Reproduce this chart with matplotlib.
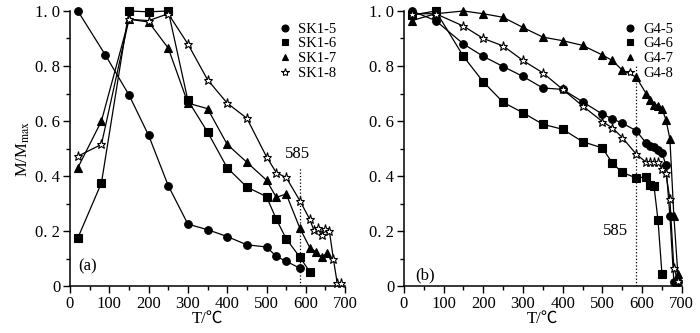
import matplotlib
matplotlib.use('Agg')
import matplotlib.pyplot as plt
from matplotlib.lines import Line2D
from matplotlib.ticker import MultipleLocator, FuncFormatter

plt.rcParams['font.family'] = ['Liberation Serif', 'Noto Sans CJK SC']
plt.rcParams['mathtext.fontset'] = 'stix'

# panel (a)
sk5_t = [20, 90, 150, 200, 250, 300, 350, 400, 450, 500, 525, 550, 585]
sk5_m = [1.0, 0.84, 0.695, 0.548, 0.365, 0.225, 0.205, 0.18, 0.15, 0.142, 0.108, 0.09, 0.065]
sk6_t = [20, 80, 150, 200, 250, 300, 350, 400, 450, 500, 525, 550, 585, 610]
sk6_m = [0.175, 0.375, 1.0, 0.997, 1.0, 0.675, 0.56, 0.43, 0.36, 0.325, 0.243, 0.172, 0.105, 0.052]
sk7_t = [20, 80, 150, 200, 250, 300, 350, 400, 450, 500, 525, 550, 585, 610, 625, 640, 655]
sk7_m = [0.43, 0.6, 0.97, 0.96, 0.865, 0.665, 0.645, 0.515, 0.45, 0.385, 0.322, 0.335, 0.21,
         0.14, 0.125, 0.105, 0.12]
sk8_t = [20, 80, 150, 200, 250, 300, 350, 400, 450, 500, 525, 550, 585, 610, 620, 630, 640,
         650, 660, 670, 680, 690]
sk8_m = [0.472, 0.515, 0.97, 0.965, 0.99, 0.88, 0.75, 0.665, 0.61, 0.47, 0.412, 0.395, 0.31,
         0.243, 0.205, 0.21, 0.185, 0.207, 0.2, 0.1, 0.01, 0.01]

# panel (b)
g5_t = [20, 80, 150, 200, 250, 300, 350, 400, 450, 500, 525, 550, 585, 610, 620, 630, 640,
        650, 660, 670, 680, 690]
g5_m = [1.0, 0.965, 0.88, 0.835, 0.798, 0.762, 0.72, 0.715, 0.67, 0.625, 0.608, 0.592, 0.565,
        0.52, 0.51, 0.505, 0.495, 0.485, 0.44, 0.255, 0.015, 0.015]
g6_t = [20, 80, 150, 200, 250, 300, 350, 400, 450, 500, 525, 550, 585, 610, 620, 630, 640, 650]
g6_m = [0.985, 1.0, 0.835, 0.742, 0.668, 0.63, 0.588, 0.57, 0.525, 0.502, 0.447, 0.413, 0.393,
        0.397, 0.367, 0.363, 0.24, 0.045]
g7_t = [20, 80, 150, 200, 250, 300, 350, 400, 450, 500, 525, 550, 585, 610, 620, 630, 640,
        650, 660, 670, 680, 690]
g7_m = [0.965, 0.99, 1.0, 0.99, 0.977, 0.94, 0.905, 0.892, 0.875, 0.84, 0.82, 0.785, 0.76,
        0.7, 0.675, 0.66, 0.655, 0.645, 0.605, 0.535, 0.255, 0.045]
g8_t = [20, 80, 150, 200, 250, 300, 350, 400, 450, 500, 525, 550, 585, 610, 620, 630, 640,
        650, 660, 670, 680, 690]
g8_m = [0.99, 0.99, 0.945, 0.9, 0.873, 0.82, 0.775, 0.715, 0.655, 0.598, 0.575, 0.54, 0.48,
        0.45, 0.45, 0.452, 0.45, 0.425, 0.41, 0.315, 0.065, 0.02]

markers = ['o', 's', '^', '*']
sizes = [5.5, 5.5, 5.5, 6.5]


def fmt(v, pos):
    if abs(v) < 1e-9:
        return '0'
    return ('%.1f' % v).replace('.', '. ')


def draw(ax, series, labels):
    handles = []
    for (t, m), lab, mk, ms in zip(series, labels, markers, sizes):
        face = 'white' if mk == '*' else 'black'
        ax.plot(t, m, color='black', lw=0.9, marker=mk, ms=ms, mfc=face, mec='black',
                mew=0.8, clip_on=False, zorder=3)
        handles.append(Line2D([], [], ls='none', marker=mk, ms=ms - 0.5, mfc=face,
                              mec='black', mew=0.8, label=lab))
    ax.set_xlim(0, 700)
    ax.set_ylim(0, 1.0)
    ax.spines['top'].set_visible(False)
    ax.spines['right'].set_visible(False)
    ax.xaxis.set_major_locator(MultipleLocator(100))
    ax.xaxis.set_minor_locator(MultipleLocator(50))
    ax.yaxis.set_major_locator(MultipleLocator(0.2))
    ax.yaxis.set_minor_locator(MultipleLocator(0.1))
    ax.yaxis.set_major_formatter(FuncFormatter(fmt))
    ax.tick_params(which='major', direction='out', length=5, width=1, labelsize=12, pad=2)
    ax.tick_params(which='minor', direction='out', length=3, width=1)
    for s in ['left', 'bottom']:
        ax.spines[s].set_linewidth(1.1)
    ax.set_xlabel('T/℃', fontsize=12, labelpad=-1)
    ax.legend(handles=handles, loc='upper right', frameon=False, fontsize=10.5,
              handlelength=0.8, handletextpad=0.5, labelspacing=0.1, borderaxespad=0.2,
              bbox_to_anchor=(1.0, 0.99))


fig = plt.figure(figsize=(7, 3.33), dpi=100)
ax1 = fig.add_axes([0.1, 0.141, 0.393, 0.826])
ax2 = fig.add_axes([0.577, 0.141, 0.397, 0.826])

draw(ax1, [(sk5_t, sk5_m), (sk6_t, sk6_m), (sk7_t, sk7_m), (sk8_t, sk8_m)],
     ['SK1-5', 'SK1-6', 'SK1-7', 'SK1-8'])
draw(ax2, [(g5_t, g5_m), (g6_t, g6_m), (g7_t, g7_m), (g8_t, g8_m)],
     ['G4-5', 'G4-6', 'G4-7', 'G4-8'])

ax1.set_ylabel('M/M$_{\\mathrm{max}}$', fontsize=12, labelpad=2)

ax1.plot([585, 585], [0, 0.43], color='black', lw=0.9, ls=':', zorder=2)
ax1.text(580, 0.45, '585', ha='center', va='bottom', fontsize=12)
ax2.plot([585, 585], [0, 0.8], color='black', lw=0.9, ls=':', zorder=2)
ax2.text(565, 0.2, '585', ha='right', va='center', fontsize=12)

ax1.text(22, 0.07, '(a)', fontsize=12, va='center')
ax2.text(28, 0.04, '(b)', fontsize=12, va='center')

fig.savefig('out.png', dpi=100)
